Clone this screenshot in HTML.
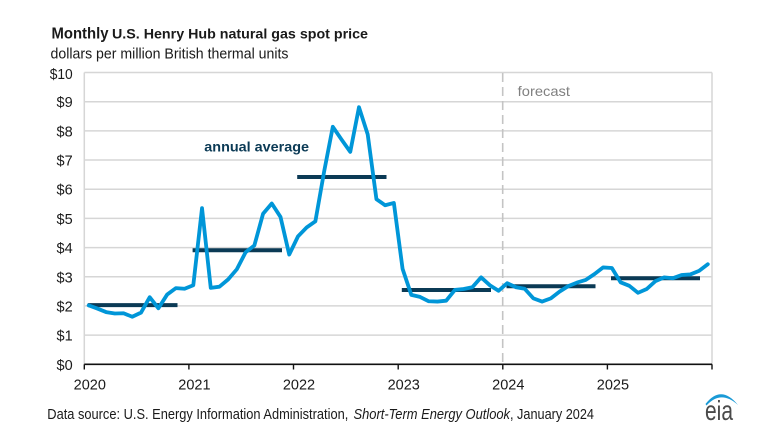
<!DOCTYPE html>
<html>
<head>
<meta charset="utf-8">
<style>
html,body{margin:0;padding:0;background:#fff;}
svg{display:block;}
text{font-family:"Liberation Sans",Arial,sans-serif;}
</style>
</head>
<body>
<svg width="762" height="438" viewBox="0 0 762 438" xmlns="http://www.w3.org/2000/svg">
<rect width="762" height="438" fill="#fff"/>
<!-- title -->
<text x="51.5" y="38.3" font-size="15.5" font-weight="bold" fill="#1a1a1a" textLength="57" lengthAdjust="spacingAndGlyphs">Monthly</text>
<text x="112" y="38.3" font-size="13.8" font-weight="bold" fill="#1a1a1a" textLength="256" lengthAdjust="spacingAndGlyphs">U.S. Henry Hub natural gas spot price</text>
<text x="50.5" y="58.3" font-size="14.3" fill="#1a1a1a" textLength="238" lengthAdjust="spacingAndGlyphs">dollars per million British thermal units</text>

<!-- gridlines -->
<g stroke="#d6d6d6" stroke-width="1.5">
<line x1="84.3" x2="712" y1="335.1" y2="335.1"/>
<line x1="84.3" x2="712" y1="305.9" y2="305.9"/>
<line x1="84.3" x2="712" y1="276.8" y2="276.8"/>
<line x1="84.3" x2="712" y1="247.6" y2="247.6"/>
<line x1="84.3" x2="712" y1="218.4" y2="218.4"/>
<line x1="84.3" x2="712" y1="189.2" y2="189.2"/>
<line x1="84.3" x2="712" y1="160.0" y2="160.0"/>
<line x1="84.3" x2="712" y1="130.9" y2="130.9"/>
<line x1="84.3" x2="712" y1="101.7" y2="101.7"/>
<line x1="84.3" x2="712" y1="72.5" y2="72.5"/>
<line x1="84.3" x2="84.3" y1="72.5" y2="364.3"/>
<line x1="712" x2="712" y1="72.5" y2="364.3"/>
</g>

<!-- forecast dashed line -->
<line x1="502.7" x2="502.7" y1="73" y2="364" stroke="#c4c4c4" stroke-width="1.6" stroke-dasharray="9,5"/>
<text x="517.7" y="96" font-size="14" fill="#808080" textLength="52.3" lengthAdjust="spacingAndGlyphs">forecast</text>

<!-- y labels -->
<g font-size="14.5" fill="#1a1a1a" text-anchor="end">
<text x="72.7" y="369.8">$0</text>
<text x="72.7" y="340.6">$1</text>
<text x="72.7" y="311.4">$2</text>
<text x="72.7" y="282.3">$3</text>
<text x="72.7" y="253.1">$4</text>
<text x="72.7" y="223.9">$5</text>
<text x="72.7" y="194.7">$6</text>
<text x="72.7" y="165.5">$7</text>
<text x="72.7" y="136.4">$8</text>
<text x="72.7" y="107.2">$9</text>
<text x="72.7" y="78.8" textLength="23" lengthAdjust="spacingAndGlyphs">$10</text>
</g>

<!-- x axis -->
<line x1="84.3" x2="712" y1="364.3" y2="364.3" stroke="#111" stroke-width="1.6"/>
<g stroke="#111" stroke-width="1.4">
<line x1="84.3" x2="84.3" y1="364.3" y2="369.5"/>
<line x1="188.9" x2="188.9" y1="364.3" y2="369.5"/>
<line x1="293.5" x2="293.5" y1="364.3" y2="369.5"/>
<line x1="398.2" x2="398.2" y1="364.3" y2="369.5"/>
<line x1="502.8" x2="502.8" y1="364.3" y2="369.5"/>
<line x1="607.4" x2="607.4" y1="364.3" y2="369.5"/>
<line x1="712" x2="712" y1="364.3" y2="369.5"/>
</g>
<g font-size="14.5" fill="#1a1a1a" text-anchor="middle">
<text x="89.8" y="389.3">2020</text>
<text x="194.4" y="389.3">2021</text>
<text x="299" y="389.3">2022</text>
<text x="403.7" y="389.3">2023</text>
<text x="508.3" y="389.3">2024</text>
<text x="612.9" y="389.3">2025</text>
</g>

<!-- annual averages -->
<g stroke="#0b3a55" stroke-width="4" stroke-linecap="butt">
<line x1="87.8" x2="177.5" y1="305.1" y2="305.1"/>
<line x1="192.6" x2="282" y1="250.3" y2="250.3"/>
<line x1="297.2" x2="386.5" y1="177" y2="177"/>
<line x1="401.8" x2="491" y1="290" y2="290"/>
<line x1="506.5" x2="595.5" y1="286.3" y2="286.3"/>
<line x1="611" x2="700" y1="278.3" y2="278.3"/>
</g>
<text x="204.3" y="151.7" font-size="14" font-weight="bold" fill="#0b3a55" textLength="104.7" lengthAdjust="spacingAndGlyphs">annual average</text>

<!-- monthly price -->
<polyline fill="none" stroke="#0096d8" stroke-width="3.8" stroke-linejoin="round" stroke-linecap="round" vector-effect="non-scaling-stroke"
transform="matrix(8.72,0,0,-29.18,88.66,364.3)"
points="0,2.02 1,1.91 2,1.79 3,1.74 4,1.75 5,1.63 6,1.77 7,2.30 8,1.92 9,2.39 10,2.61 11,2.59
12,2.71 13,5.35 14,2.62 15,2.66 16,2.91 17,3.26 18,3.84 19,4.07 20,5.16 21,5.51 22,5.05 23,3.76
24,4.38 25,4.69 26,4.90 27,6.60 28,8.14 29,7.70 30,7.28 31,8.81 32,7.88 33,5.66 34,5.45 35,5.53
36,3.27 37,2.38 38,2.31 39,2.16 40,2.15 41,2.18 42,2.55 43,2.58 44,2.64 45,2.98 46,2.71 47,2.52
48,2.78 49,2.64 50,2.59 51,2.26 52,2.15 53,2.26 54,2.49 55,2.68 56,2.80 57,2.89 58,3.09 59,3.32
60,3.30 61,2.81 62,2.69 63,2.45 64,2.58 65,2.85 66,2.98 67,2.95 68,3.06 69,3.08 70,3.20 71,3.43"/>

<!-- source -->
<text x="47.3" y="419" font-size="14.5" fill="#1a1a1a" textLength="301" lengthAdjust="spacingAndGlyphs">Data source: U.S. Energy Information Administration,</text>
<text x="353.5" y="419" font-size="14.5" font-style="italic" fill="#1a1a1a" textLength="156.5" lengthAdjust="spacingAndGlyphs">Short-Term Energy Outlook</text>
<text x="510" y="419" font-size="14.5" fill="#1a1a1a" textLength="84" lengthAdjust="spacingAndGlyphs">, January 2024</text>

<!-- eia logo -->
<path d="M705.5,404 Q721,384 738,405 Q721,389.5 706.5,405.5 Z" fill="#1a9ad6"/>
<text x="705" y="420" font-size="28" fill="#4a4a4a" textLength="28" lengthAdjust="spacingAndGlyphs">eia</text>
</svg>
</body>
</html>
